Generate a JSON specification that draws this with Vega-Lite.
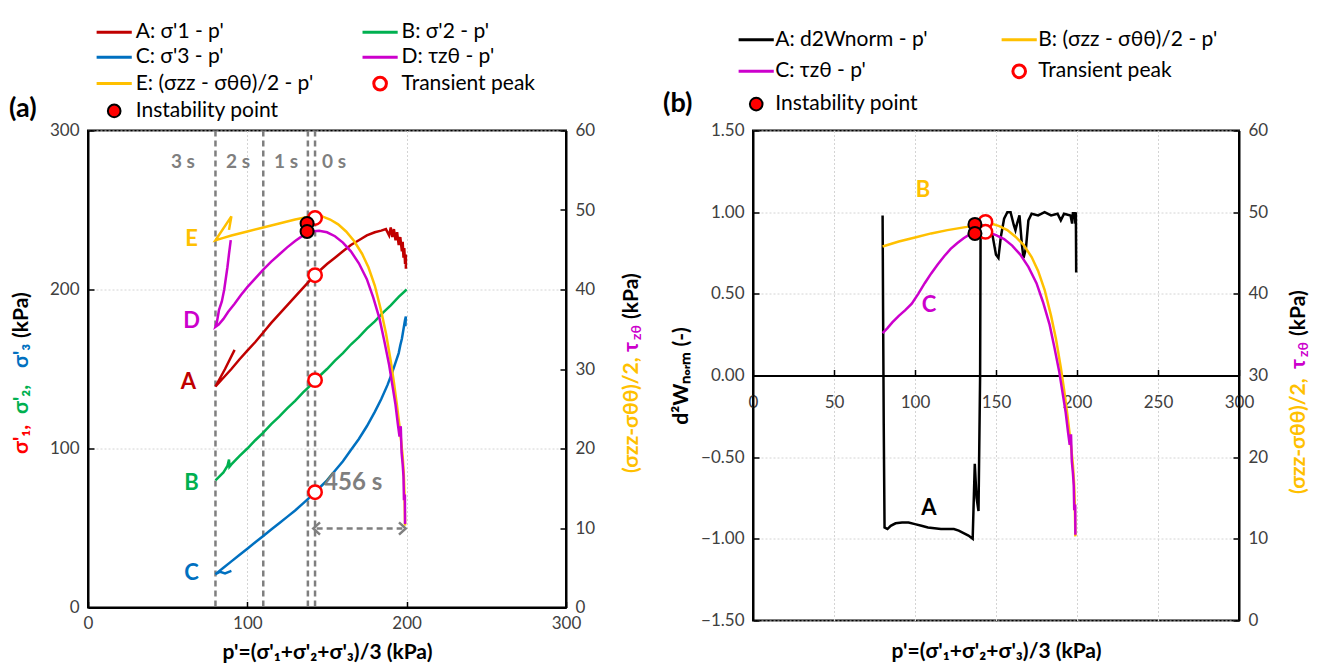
{
"$schema": "https://vega.github.io/schema/vega-lite/v6.json",
"padding": {"left": 8, "top": 20.5, "right": 5, "bottom": 5},
"background": "white",
"config": {
 "font": "Lato",
 "view": {"stroke": "black", "strokeWidth": 2},
 "axis": {"labelFont": "Lato", "labelFontSize": 17, "labelColor": "#404040", "labelFlush": false, "titleFont": "Lato", "titleFontSize": 21, "titleFontWeight": "bold", "titleColor": "black", "domainColor": "black", "domainWidth": 2, "tickColor": "black", "tickWidth": 1.5, "tickSize": -6, "gridColor": "#D4D4D4", "gridDash": [2, 2], "gridWidth": 1},
 "legend": {"labelFont": "Lato", "labelFontSize": 21, "labelColor": "black", "labelLimit": 400},
 "title": {"font": "Lato", "fontSize": 27, "fontWeight": "bold", "color": "black"}
},
"datasets": {
 "aRules": [{"p": 80}, {"p": 110}, {"p": 138}, {"p": 142.5}],
 "aL": [
  {"k":"A","o":1,"p":92,"s":162},{"k":"A","o":2,"p":86,"s":150},{"k":"A","o":3,"p":80,"s":139},{"k":"A","o":4,"p":85,"s":144.5},{"k":"A","o":5,"p":90,"s":150},{"k":"A","o":6,"p":95,"s":156},{"k":"A","o":7,"p":100,"s":161.5},{"k":"A","o":8,"p":105,"s":167},{"k":"A","o":9,"p":110,"s":173},{"k":"A","o":10,"p":115,"s":179},{"k":"A","o":11,"p":120,"s":184.5},{"k":"A","o":12,"p":125,"s":190},{"k":"A","o":13,"p":130,"s":195.5},{"k":"A","o":14,"p":135,"s":201},{"k":"A","o":15,"p":140,"s":206.5},{"k":"A","o":16,"p":145,"s":211.5},{"k":"A","o":17,"p":150,"s":216},{"k":"A","o":18,"p":155,"s":220},{"k":"A","o":19,"p":160,"s":224},{"k":"A","o":20,"p":165,"s":228},{"k":"A","o":21,"p":170,"s":231},{"k":"A","o":22,"p":175,"s":234},{"k":"A","o":23,"p":180,"s":236},{"k":"A","o":24,"p":184,"s":237},{"k":"A","o":25,"p":187,"s":238},{"k":"A","o":26,"p":189,"s":234},{"k":"A","o":27,"p":190,"s":239},{"k":"A","o":28,"p":191,"s":233},{"k":"A","o":29,"p":192,"s":238},{"k":"A","o":30,"p":193,"s":231},{"k":"A","o":31,"p":194,"s":236},{"k":"A","o":32,"p":195,"s":228},{"k":"A","o":33,"p":196,"s":233},{"k":"A","o":34,"p":197,"s":224},{"k":"A","o":35,"p":197.5,"s":230},{"k":"A","o":36,"p":198,"s":220},{"k":"A","o":37,"p":198.5,"s":226},{"k":"A","o":38,"p":199,"s":216},{"k":"A","o":39,"p":199.5,"s":222},{"k":"A","o":40,"p":199.5,"s":213},
  {"k":"B","o":1,"p":80,"s":80},{"k":"B","o":2,"p":85,"s":85},{"k":"B","o":3,"p":87.5,"s":89},{"k":"B","o":4,"p":88.5,"s":93},{"k":"B","o":5,"p":88.8,"s":88.5},{"k":"B","o":6,"p":90,"s":90},{"k":"B","o":7,"p":95,"s":95.2},{"k":"B","o":8,"p":100,"s":100},{"k":"B","o":9,"p":105,"s":105.2},{"k":"B","o":10,"p":110,"s":110},{"k":"B","o":11,"p":115,"s":115.3},{"k":"B","o":12,"p":120,"s":120},{"k":"B","o":13,"p":125,"s":125.2},{"k":"B","o":14,"p":130,"s":130},{"k":"B","o":15,"p":135,"s":135.3},{"k":"B","o":16,"p":140,"s":140},{"k":"B","o":17,"p":145,"s":145.3},{"k":"B","o":18,"p":150,"s":150},{"k":"B","o":19,"p":155,"s":155.3},{"k":"B","o":20,"p":160,"s":160},{"k":"B","o":21,"p":165,"s":165.4},{"k":"B","o":22,"p":170,"s":170},{"k":"B","o":23,"p":175,"s":175.4},{"k":"B","o":24,"p":180,"s":180},{"k":"B","o":25,"p":185,"s":185.3},{"k":"B","o":26,"p":190,"s":190},{"k":"B","o":27,"p":195,"s":195.4},{"k":"B","o":28,"p":200,"s":200},
  {"k":"C","o":1,"p":90,"s":23},{"k":"C","o":2,"p":86,"s":21.5},{"k":"C","o":3,"p":83,"s":22.5},{"k":"C","o":4,"p":80,"s":21},{"k":"C","o":5,"p":85,"s":25},{"k":"C","o":6,"p":90,"s":29},{"k":"C","o":7,"p":95,"s":33},{"k":"C","o":8,"p":100,"s":37},{"k":"C","o":9,"p":105,"s":41},{"k":"C","o":10,"p":110,"s":45},{"k":"C","o":11,"p":115,"s":49},{"k":"C","o":12,"p":120,"s":53},{"k":"C","o":13,"p":125,"s":57},{"k":"C","o":14,"p":130,"s":61},{"k":"C","o":15,"p":135,"s":65.5},{"k":"C","o":16,"p":140,"s":70},{"k":"C","o":17,"p":145,"s":75},{"k":"C","o":18,"p":150,"s":80},{"k":"C","o":19,"p":155,"s":86},{"k":"C","o":20,"p":160,"s":92},{"k":"C","o":21,"p":165,"s":99},{"k":"C","o":22,"p":170,"s":106},{"k":"C","o":23,"p":175,"s":114},{"k":"C","o":24,"p":180,"s":123},{"k":"C","o":25,"p":184,"s":131},{"k":"C","o":26,"p":188,"s":140},{"k":"C","o":27,"p":191,"s":148},{"k":"C","o":28,"p":193,"s":154},{"k":"C","o":29,"p":195,"s":160},{"k":"C","o":30,"p":196,"s":165},{"k":"C","o":31,"p":197,"s":169},{"k":"C","o":32,"p":197.5,"s":172},{"k":"C","o":33,"p":198,"s":175},{"k":"C","o":34,"p":198.5,"s":178},{"k":"C","o":35,"p":199,"s":181},{"k":"C","o":36,"p":199.5,"s":183},{"k":"C","o":37,"p":199.2,"s":177}
 ],
 "aR": [
  {"k":"E","o":1,"p":88.5,"t":47.5},{"k":"E","o":2,"p":90,"t":49.2},{"k":"E","o":3,"p":80,"t":46.2},{"k":"E","o":4,"p":85,"t":46.5},{"k":"E","o":5,"p":90,"t":46.8},{"k":"E","o":6,"p":100,"t":47.3},{"k":"E","o":7,"p":110,"t":47.8},{"k":"E","o":8,"p":120,"t":48.3},{"k":"E","o":9,"p":130,"t":48.8},{"k":"E","o":10,"p":137,"t":49.1},{"k":"E","o":11,"p":142,"t":49.3},{"k":"E","o":12,"p":147,"t":49.2},{"k":"E","o":13,"p":152,"t":48.8},{"k":"E","o":14,"p":157,"t":48.2},{"k":"E","o":15,"p":162,"t":47.3},{"k":"E","o":16,"p":167,"t":46.1},{"k":"E","o":17,"p":172,"t":44.5},{"k":"E","o":18,"p":176,"t":42.8},{"k":"E","o":19,"p":180,"t":40.5},{"k":"E","o":20,"p":184,"t":37.3},{"k":"E","o":21,"p":187,"t":34.5},{"k":"E","o":22,"p":190,"t":31},{"k":"E","o":23,"p":192,"t":28.3},{"k":"E","o":24,"p":194,"t":25.3},{"k":"E","o":25,"p":195.5,"t":22.8},{"k":"E","o":26,"p":196.5,"t":21},{"k":"E","o":27,"p":197.5,"t":19},{"k":"E","o":28,"p":198.2,"t":16.8},{"k":"E","o":29,"p":198.6,"t":14.5},{"k":"E","o":30,"p":198.8,"t":12.5},{"k":"E","o":31,"p":199,"t":10.3},
  {"k":"D","o":1,"p":89.6,"t":46.2},{"k":"D","o":2,"p":88.5,"t":44.5},{"k":"D","o":3,"p":87.5,"t":42.8},{"k":"D","o":4,"p":85.5,"t":40},{"k":"D","o":5,"p":84,"t":38.5},{"k":"D","o":6,"p":82.2,"t":37.4},{"k":"D","o":7,"p":81,"t":36},{"k":"D","o":8,"p":80,"t":35.3},{"k":"D","o":9,"p":82,"t":35.6},{"k":"D","o":10,"p":85,"t":36.3},{"k":"D","o":11,"p":88,"t":37.2},{"k":"D","o":12,"p":92,"t":38.2},{"k":"D","o":13,"p":96,"t":39.3},{"k":"D","o":14,"p":100,"t":40.3},{"k":"D","o":15,"p":105,"t":41.4},{"k":"D","o":16,"p":110,"t":42.5},{"k":"D","o":17,"p":115,"t":43.5},{"k":"D","o":18,"p":120,"t":44.4},{"k":"D","o":19,"p":125,"t":45.3},{"k":"D","o":20,"p":130,"t":46.1},{"k":"D","o":21,"p":135,"t":46.8},{"k":"D","o":22,"p":140,"t":47.3},{"k":"D","o":23,"p":145,"t":47.4},{"k":"D","o":24,"p":150,"t":47.2},{"k":"D","o":25,"p":155,"t":46.7},{"k":"D","o":26,"p":160,"t":45.9},{"k":"D","o":27,"p":165,"t":44.8},{"k":"D","o":28,"p":170,"t":43.3},{"k":"D","o":29,"p":175,"t":41.3},{"k":"D","o":30,"p":179,"t":39},{"k":"D","o":31,"p":183,"t":36.3},{"k":"D","o":32,"p":186,"t":33.5},{"k":"D","o":33,"p":189,"t":30.5},{"k":"D","o":34,"p":191,"t":28},{"k":"D","o":35,"p":193,"t":25.5},{"k":"D","o":36,"p":194.5,"t":23},{"k":"D","o":37,"p":195.5,"t":21.5},{"k":"D","o":38,"p":196.3,"t":22.8},{"k":"D","o":39,"p":196.8,"t":19.5},{"k":"D","o":40,"p":197.5,"t":18},{"k":"D","o":41,"p":198,"t":16.5},{"k":"D","o":42,"p":198.3,"t":13.5},{"k":"D","o":43,"p":198.9,"t":14.2},{"k":"D","o":44,"p":199,"t":10.5}
 ],
 "aTPL": [{"p":142.5,"s":209},{"p":142.5,"s":143},{"p":142.5,"s":72.5}],
 "aTPR": [{"p":142.5,"t":49.0}],
 "aIPR": [{"p":137.5,"t":48.3},{"p":137.5,"t":47.3}],
 "aTxtL": [{"k":"A","lbl":"A","p":63,"s":142},{"k":"B","lbl":"B","p":65,"s":78.6},{"k":"C","lbl":"C","p":65,"s":22}],
 "aTxtR": [{"k":"D","lbl":"D","p":65,"t":36.1},{"k":"E","lbl":"E","p":65,"t":46.4}],
 "aSec": [{"lbl":"3 s","p":59.6,"s":280},{"lbl":"2 s","p":94.2,"s":280},{"lbl":"1 s","p":124.3,"s":280},{"lbl":"0 s","p":154.4,"s":280}],
 "aDur": [{"lbl":"456 s","p":166.4,"s":78.6}],
 "aArrow": [{"p":143.5,"p2":197.3,"s":49.7}],
 "aHeads": [{"dir":"L","p":143.5,"s":49.7},{"dir":"R","p":197.3,"s":49.7}],
 "bA": [
  {"k":"A","o":1,"p":80,"v":0.98},{"k":"A","o":2,"p":80.3,"v":0.4},{"k":"A","o":3,"p":80.7,"v":-0.3},{"k":"A","o":4,"p":81.2,"v":-0.93},{"k":"A","o":5,"p":83,"v":-0.94},{"k":"A","o":6,"p":85,"v":-0.92},{"k":"A","o":7,"p":88,"v":-0.905},{"k":"A","o":8,"p":92,"v":-0.9},{"k":"A","o":9,"p":96,"v":-0.9},{"k":"A","o":10,"p":100,"v":-0.91},{"k":"A","o":11,"p":104,"v":-0.92},{"k":"A","o":12,"p":108,"v":-0.93},{"k":"A","o":13,"p":112,"v":-0.935},{"k":"A","o":14,"p":116,"v":-0.94},{"k":"A","o":15,"p":120,"v":-0.94},{"k":"A","o":16,"p":124,"v":-0.94},{"k":"A","o":17,"p":127,"v":-0.95},{"k":"A","o":18,"p":130,"v":-0.965},{"k":"A","o":19,"p":133,"v":-0.98},{"k":"A","o":20,"p":135.6,"v":-1.0},{"k":"A","o":21,"p":136.9,"v":-0.54},{"k":"A","o":22,"p":138,"v":-0.75},{"k":"A","o":23,"p":139.2,"v":-0.83},{"k":"A","o":24,"p":140.2,"v":0},{"k":"A","o":25,"p":140.5,"v":0.91},{"k":"A","o":26,"p":143,"v":0.93},{"k":"A","o":27,"p":145.9,"v":0.93},{"k":"A","o":28,"p":148,"v":0.85},{"k":"A","o":29,"p":150,"v":0.74},{"k":"A","o":30,"p":151.5,"v":0.72},{"k":"A","o":31,"p":153,"v":0.85},{"k":"A","o":32,"p":155,"v":0.96},{"k":"A","o":33,"p":157,"v":1.0},{"k":"A","o":34,"p":159,"v":1.0},{"k":"A","o":35,"p":161,"v":0.92},{"k":"A","o":36,"p":162,"v":0.89},{"k":"A","o":37,"p":163,"v":0.93},{"k":"A","o":38,"p":164.5,"v":0.98},{"k":"A","o":39,"p":166,"v":0.8},{"k":"A","o":40,"p":167,"v":0.72},{"k":"A","o":41,"p":168.5,"v":0.78},{"k":"A","o":42,"p":170,"v":0.95},{"k":"A","o":43,"p":172,"v":0.99},{"k":"A","o":44,"p":176,"v":0.98},{"k":"A","o":45,"p":180,"v":1.0},{"k":"A","o":46,"p":184,"v":0.98},{"k":"A","o":47,"p":188,"v":0.99},{"k":"A","o":48,"p":190,"v":0.95},{"k":"A","o":49,"p":192,"v":0.99},{"k":"A","o":50,"p":196,"v":0.98},{"k":"A","o":51,"p":197,"v":0.93},{"k":"A","o":52,"p":197.5,"v":1.0},{"k":"A","o":53,"p":198,"v":0.96},{"k":"A","o":54,"p":198.5,"v":1.0},{"k":"A","o":55,"p":199,"v":0.93},{"k":"A","o":56,"p":199.3,"v":1.0},{"k":"A","o":57,"p":199.5,"v":0.63}
 ],
 "bR": [
  {"k":"B","o":1,"p":80,"t":45.8},{"k":"B","o":2,"p":90,"t":46.4},{"k":"B","o":3,"p":100,"t":46.9},{"k":"B","o":4,"p":110,"t":47.4},{"k":"B","o":5,"p":120,"t":47.8},{"k":"B","o":6,"p":132,"t":48.2},{"k":"B","o":7,"p":138,"t":48.5},{"k":"B","o":8,"p":143,"t":48.7},{"k":"B","o":9,"p":147,"t":48.6},{"k":"B","o":10,"p":152,"t":48.3},{"k":"B","o":11,"p":157,"t":47.8},{"k":"B","o":12,"p":162,"t":47},{"k":"B","o":13,"p":167,"t":46},{"k":"B","o":14,"p":172,"t":44.5},{"k":"B","o":15,"p":176,"t":42.8},{"k":"B","o":16,"p":180,"t":40.5},{"k":"B","o":17,"p":184,"t":37.3},{"k":"B","o":18,"p":187,"t":34.5},{"k":"B","o":19,"p":190,"t":31},{"k":"B","o":20,"p":192,"t":28.3},{"k":"B","o":21,"p":194,"t":25.3},{"k":"B","o":22,"p":195.5,"t":22.8},{"k":"B","o":23,"p":196.5,"t":21},{"k":"B","o":24,"p":197.5,"t":19},{"k":"B","o":25,"p":198.2,"t":16.8},{"k":"B","o":26,"p":198.6,"t":14.5},{"k":"B","o":27,"p":198.8,"t":12.5},{"k":"B","o":28,"p":199,"t":10.3},
  {"k":"C","o":1,"p":80,"t":35.2},{"k":"C","o":2,"p":83,"t":35.8},{"k":"C","o":3,"p":86,"t":36.5},{"k":"C","o":4,"p":90,"t":37.3},{"k":"C","o":5,"p":94,"t":38},{"k":"C","o":6,"p":98,"t":38.8},{"k":"C","o":7,"p":102,"t":40},{"k":"C","o":8,"p":106,"t":41.3},{"k":"C","o":9,"p":110,"t":42.5},{"k":"C","o":10,"p":114,"t":43.6},{"k":"C","o":11,"p":118,"t":44.6},{"k":"C","o":12,"p":122,"t":45.5},{"k":"C","o":13,"p":126,"t":46.2},{"k":"C","o":14,"p":130,"t":46.8},{"k":"C","o":15,"p":134,"t":47.3},{"k":"C","o":16,"p":138,"t":47.6},{"k":"C","o":17,"p":142,"t":47.7},{"k":"C","o":18,"p":146,"t":47.5},{"k":"C","o":19,"p":150,"t":47.2},{"k":"C","o":20,"p":155,"t":46.7},{"k":"C","o":21,"p":160,"t":45.9},{"k":"C","o":22,"p":165,"t":44.8},{"k":"C","o":23,"p":170,"t":43.3},{"k":"C","o":24,"p":175,"t":41.3},{"k":"C","o":25,"p":179,"t":39},{"k":"C","o":26,"p":183,"t":36.3},{"k":"C","o":27,"p":186,"t":33.5},{"k":"C","o":28,"p":189,"t":30.5},{"k":"C","o":29,"p":191,"t":28},{"k":"C","o":30,"p":193,"t":25.5},{"k":"C","o":31,"p":194.5,"t":23},{"k":"C","o":32,"p":195.5,"t":21.5},{"k":"C","o":33,"p":196.3,"t":22.8},{"k":"C","o":34,"p":196.8,"t":19.5},{"k":"C","o":35,"p":197.5,"t":18},{"k":"C","o":36,"p":198,"t":16.5},{"k":"C","o":37,"p":198.3,"t":13.5},{"k":"C","o":38,"p":198.9,"t":14.2},{"k":"C","o":39,"p":199,"t":10.5}
 ],
 "bTP": [{"p":143.5,"t":48.8},{"p":143.5,"t":47.6}],
 "bIP": [{"p":137,"t":48.5},{"p":137,"t":47.4}],
 "bTxtL": [{"k":"A","lbl":"A","p":108.6,"v":-0.81}],
 "bTxtR": [{"k":"B","lbl":"B","p":104.9,"t":52.7},{"k":"C","lbl":"C","p":108.6,"t":38.6}]
},
"resolve": {"scale": {"color": "independent", "fill": "independent", "shape": "independent"}, "legend": {"color": "independent"}},
"bounds": "flush",
"spacing": 187,
"hconcat": [
 {
  "width": 478, "height": 477,
  "title": {"text": "(a)", "anchor": "start", "frame": "group", "dx": -79, "dy": 113, "offset": 12},
  "resolve": {"scale": {"y": "independent"}},
  "layer": [
   {"data": {"name": "aRules"}, "mark": {"type": "rule", "color": "#7F7F7F", "strokeWidth": 2.5, "strokeDash": [6, 4]},
    "encoding": {"x": {"field": "p", "type": "quantitative", "scale": {"domain": [0, 300], "nice": false},
      "axis": {"values": [0, 100, 200, 300], "grid": true, "title": "p'=(σ'₁+σ'₂+σ'₃)/3 (kPa)", "titleY": 45, "titleBaseline": "middle", "labelPadding": 14}}}},
   {"data": {"name": "aL"}, "mark": {"type": "line", "strokeWidth": 2.5},
    "encoding": {
     "x": {"field": "p", "type": "quantitative"},
     "y": {"field": "s", "type": "quantitative", "scale": {"domain": [0, 300], "nice": false},
       "axis": {"orient": "left", "values": [0, 100, 200, 300], "grid": true, "labelPadding": 15, "title": "σ'₁,", "titleColor": "#FF0000", "titleAngle": -90, "titleAlign": "left", "titleBaseline": "middle", "titleX": -67, "titleY": 323}},
     "color": {"field": "k", "type": "nominal",
       "scale": {"domain": ["A", "B", "C", "D", "E", "TP", "IP"], "range": ["#C00000", "#00B050", "#0070C0", "#CC00CC", "#FFC000", "#FF0000", "#000000"]},
       "legend": {"title": null, "orient": "none", "direction": "horizontal", "legendX": 15.7, "legendY": -109, "columns": 2, "columnPadding": 42.9, "rowPadding": 3.3, "labelOffset": 11, "symbolSize": 160, "symbolStrokeWidth": 3, "symbolOpacity": 1,
        "labelExpr": "datum.label == 'A' ? \"A: σ'1 - p'\" : datum.label == 'B' ? \"B: σ'2 - p'\" : datum.label == 'C' ? \"C: σ'3 - p'\" : datum.label == 'D' ? \"D: τzθ - p'\" : datum.label == 'E' ? \"E: (σzz - σθθ)/2 - p'\" : datum.label == 'TP' ? 'Transient peak' : 'Instability point'",
        "encode": {"symbols": {"update": {
          "shape": {"signal": "datum.value == 'TP' || datum.value == 'IP' ? 'circle' : 'M -2.78 0 L 2.78 0'"},
          "fill": {"signal": "datum.value == 'IP' ? '#FF0000' : datum.value == 'TP' ? '#FFFFFF' : 'transparent'"},
          "strokeWidth": {"signal": "datum.value == 'IP' ? 2 : 3"},
          "opacity": {"value": 1}}}}}},
     "order": {"field": "o", "type": "quantitative"}}},
   {"data": {"name": "aR"}, "mark": {"type": "line", "strokeWidth": 2.5},
    "encoding": {
     "x": {"field": "p", "type": "quantitative"},
     "y": {"field": "t", "type": "quantitative", "scale": {"domain": [0, 60], "nice": false},
       "axis": {"orient": "right", "values": [0, 10, 20, 30, 40, 50, 60], "grid": false, "labelPadding": 15, "title": "(σzz-σθθ)/2,", "titleColor": "#FFC000", "titleAngle": -90, "titleAlign": "left", "titleBaseline": "middle", "titleX": 65, "titleY": 342}},
     "color": {"field": "k", "type": "nominal"},
     "order": {"field": "o", "type": "quantitative"}}},
   {"data": {"name": "aArrow"}, "mark": {"type": "rule", "color": "#7F7F7F", "strokeWidth": 2.5, "strokeDash": [6, 4]},
    "encoding": {"x": {"field": "p", "type": "quantitative"}, "x2": {"field": "p2"},
     "y": {"field": "s", "type": "quantitative", "scale": {"domain": [0, 300], "nice": false}, "axis": null}}},
   {"data": {"name": "aHeads"}, "mark": {"type": "point", "filled": false, "color": "#7F7F7F", "strokeWidth": 2.5, "size": 150, "opacity": 1},
    "encoding": {"x": {"field": "p", "type": "quantitative"},
     "y": {"field": "s", "type": "quantitative", "scale": {"domain": [0, 300], "nice": false}, "axis": null},
     "shape": {"field": "dir", "type": "nominal", "scale": {"domain": ["L", "R"], "range": ["M 0.55 -1 L -0.55 0 L 0.55 1", "M -0.55 -1 L 0.55 0 L -0.55 1"]}, "legend": null}}},
   {"data": {"name": "aTPL"}, "mark": {"type": "point", "shape": "circle", "filled": false, "color": "#FF0000", "fill": "white", "strokeWidth": 2.5, "size": 180, "opacity": 1},
    "encoding": {"x": {"field": "p", "type": "quantitative"},
     "y": {"field": "s", "type": "quantitative", "scale": {"domain": [0, 300], "nice": false},
       "axis": {"orient": "left", "labels": false, "ticks": false, "domain": false, "grid": false, "title": "σ'₂,", "titleColor": "#00B050", "titleAngle": -90, "titleAlign": "left", "titleBaseline": "middle", "titleX": -67, "titleY": 283}}}},
   {"data": {"name": "aTPR"}, "mark": {"type": "point", "shape": "circle", "filled": false, "color": "#FF0000", "fill": "white", "strokeWidth": 2.5, "size": 180, "opacity": 1},
    "encoding": {"x": {"field": "p", "type": "quantitative"},
     "y": {"field": "t", "type": "quantitative", "scale": {"domain": [0, 60], "nice": false},
       "axis": {"orient": "right", "labels": false, "ticks": false, "domain": false, "grid": false, "title": "τ", "titleColor": "#CC00CC", "titleAngle": -90, "titleAlign": "left", "titleBaseline": "middle", "titleX": 65, "titleY": 221}}}},
   {"data": {"name": "aIPR"}, "mark": {"type": "point", "shape": "circle", "filled": true, "fill": "#FF0000", "stroke": "#000000", "strokeWidth": 2, "size": 170, "opacity": 1},
    "encoding": {"x": {"field": "p", "type": "quantitative"},
     "y": {"field": "t", "type": "quantitative", "scale": {"domain": [0, 60], "nice": false},
       "axis": {"orient": "right", "labels": false, "ticks": false, "domain": false, "grid": false, "title": "zθ", "titleFontSize": 14, "titleColor": "#CC00CC", "titleAngle": -90, "titleAlign": "left", "titleBaseline": "middle", "titleX": 70, "titleY": 209}}}},
   {"data": {"name": "aTxtL"}, "mark": {"type": "text", "fontWeight": "bold", "fontSize": 22, "align": "center", "baseline": "middle"},
    "encoding": {"x": {"field": "p", "type": "quantitative"},
     "y": {"field": "s", "type": "quantitative", "scale": {"domain": [0, 300], "nice": false},
       "axis": {"orient": "left", "labels": false, "ticks": false, "domain": false, "grid": false, "title": "σ'₃", "titleColor": "#0070C0", "titleAngle": -90, "titleAlign": "left", "titleBaseline": "middle", "titleX": -67, "titleY": 237}},
     "text": {"field": "lbl"},
     "fill": {"field": "k", "type": "nominal", "scale": {"domain": ["A", "B", "C", "D", "E"], "range": ["#C00000", "#00B050", "#0070C0", "#CC00CC", "#FFC000"]}, "legend": null}}},
   {"data": {"name": "aTxtR"}, "mark": {"type": "text", "fontWeight": "bold", "fontSize": 22, "align": "center", "baseline": "middle"},
    "encoding": {"x": {"field": "p", "type": "quantitative"},
     "y": {"field": "t", "type": "quantitative", "scale": {"domain": [0, 60], "nice": false},
       "axis": {"orient": "right", "labels": false, "ticks": false, "domain": false, "grid": false, "title": "(kPa)", "titleColor": "black", "titleAngle": -90, "titleAlign": "left", "titleBaseline": "middle", "titleX": 65, "titleY": 188}},
     "text": {"field": "lbl"},
     "fill": {"field": "k", "type": "nominal", "legend": null}}},
   {"data": {"name": "aSec"}, "mark": {"type": "text", "fontWeight": "bold", "fontSize": 19, "color": "#7F7F7F", "align": "center", "baseline": "middle"},
    "encoding": {"x": {"field": "p", "type": "quantitative"},
     "y": {"field": "s", "type": "quantitative", "scale": {"domain": [0, 300], "nice": false},
       "axis": {"orient": "left", "labels": false, "ticks": false, "domain": false, "grid": false, "title": "(kPa)", "titleColor": "black", "titleAngle": -90, "titleAlign": "left", "titleBaseline": "middle", "titleX": -67, "titleY": 207}},
     "text": {"field": "lbl"}}},
   {"data": {"name": "aDur"}, "mark": {"type": "text", "fontWeight": "bold", "fontSize": 24, "color": "#7F7F7F", "align": "center", "baseline": "middle"},
    "encoding": {"x": {"field": "p", "type": "quantitative"},
     "y": {"field": "s", "type": "quantitative", "scale": {"domain": [0, 300], "nice": false}, "axis": null},
     "text": {"field": "lbl"}}}
  ]
 },
 {
  "width": 486, "height": 490,
  "title": {"text": "(b)", "anchor": "start", "frame": "group", "dx": -90, "dy": 101, "offset": 12},
  "resolve": {"scale": {"y": "independent"}},
  "layer": [
   {"data": {"name": "bA"}, "mark": {"type": "line", "strokeWidth": 2.5},
    "encoding": {
     "x": {"field": "p", "type": "quantitative", "scale": {"domain": [0, 300], "nice": false},
       "axis": {"orient": "bottom", "offset": -245, "values": [0, 50, 100, 150, 200, 250, 300], "grid": true, "title": "p'=(σ'₁+σ'₂+σ'₃)/3 (kPa)", "titleY": 276, "titleBaseline": "middle", "labelPadding": 25}},
     "y": {"field": "v", "type": "quantitative", "scale": {"domain": [-1.5, 1.5], "nice": false},
       "axis": {"orient": "left", "values": [-1.5, -1, -0.5, 0, 0.5, 1, 1.5], "format": ".2f", "grid": true, "labelPadding": 15, "title": "d²Wₙₒᵣₘ (-)", "titleAngle": -90, "titleAlign": "center", "titleBaseline": "middle", "titleX": -72, "titleY": 245}},
     "color": {"field": "k", "type": "nominal",
       "scale": {"domain": ["A", "B", "C", "TP", "IP"], "range": ["#000000", "#FFC000", "#CC00CC", "#FF0000", "#000000"]},
       "legend": {"title": null, "orient": "none", "direction": "horizontal", "legendX": -7.3, "legendY": -101.5, "columns": 2, "columnPadding": 67, "rowPadding": 8.8, "labelOffset": 8.5, "symbolSize": 160, "symbolStrokeWidth": 3, "symbolOpacity": 1,
        "labelExpr": "datum.label == 'A' ? \"A: d2Wnorm - p'\" : datum.label == 'B' ? \"B: (σzz - σθθ)/2 - p'\" : datum.label == 'C' ? \"C: τzθ - p'\" : datum.label == 'TP' ? 'Transient peak' : 'Instability point'",
        "encode": {"symbols": {"update": {
          "shape": {"signal": "datum.value == 'TP' || datum.value == 'IP' ? 'circle' : 'M -2.78 0 L 2.78 0'"},
          "fill": {"signal": "datum.value == 'IP' ? '#FF0000' : datum.value == 'TP' ? '#FFFFFF' : 'transparent'"},
          "strokeWidth": {"signal": "datum.value == 'IP' ? 2 : 3"},
          "opacity": {"value": 1}}}}}},
     "order": {"field": "o", "type": "quantitative"}}},
   {"data": {"name": "bR"}, "mark": {"type": "line", "strokeWidth": 2.5},
    "encoding": {
     "x": {"field": "p", "type": "quantitative"},
     "y": {"field": "t", "type": "quantitative", "scale": {"domain": [0, 60], "nice": false},
       "axis": {"orient": "right", "values": [0, 10, 20, 30, 40, 50, 60], "grid": false, "labelPadding": 15, "title": "(σzz-σθθ)/2,", "titleColor": "#FFC000", "titleAngle": -90, "titleAlign": "left", "titleBaseline": "middle", "titleX": 59, "titleY": 363}},
     "color": {"field": "k", "type": "nominal"},
     "order": {"field": "o", "type": "quantitative"}}},
   {"data": {"name": "bTP"}, "mark": {"type": "point", "shape": "circle", "filled": false, "color": "#FF0000", "fill": "white", "strokeWidth": 2.5, "size": 180, "opacity": 1},
    "encoding": {"x": {"field": "p", "type": "quantitative"},
     "y": {"field": "t", "type": "quantitative", "scale": {"domain": [0, 60], "nice": false},
       "axis": {"orient": "right", "labels": false, "ticks": false, "domain": false, "grid": false, "title": "τ", "titleColor": "#CC00CC", "titleAngle": -90, "titleAlign": "left", "titleBaseline": "middle", "titleX": 59, "titleY": 238}}}},
   {"data": {"name": "bIP"}, "mark": {"type": "point", "shape": "circle", "filled": true, "fill": "#FF0000", "stroke": "#000000", "strokeWidth": 2, "size": 170, "opacity": 1},
    "encoding": {"x": {"field": "p", "type": "quantitative"},
     "y": {"field": "t", "type": "quantitative", "scale": {"domain": [0, 60], "nice": false},
       "axis": {"orient": "right", "labels": false, "ticks": false, "domain": false, "grid": false, "title": "zθ", "titleFontSize": 14, "titleColor": "#CC00CC", "titleAngle": -90, "titleAlign": "left", "titleBaseline": "middle", "titleX": 64, "titleY": 226}}}},
   {"data": {"name": "bTxtR"}, "mark": {"type": "text", "fontWeight": "bold", "fontSize": 22, "align": "center", "baseline": "middle"},
    "encoding": {"x": {"field": "p", "type": "quantitative"},
     "y": {"field": "t", "type": "quantitative", "scale": {"domain": [0, 60], "nice": false},
       "axis": {"orient": "right", "labels": false, "ticks": false, "domain": false, "grid": false, "title": "(kPa)", "titleColor": "black", "titleAngle": -90, "titleAlign": "left", "titleBaseline": "middle", "titleX": 59, "titleY": 205}},
     "text": {"field": "lbl"},
     "fill": {"field": "k", "type": "nominal", "scale": {"domain": ["A", "B", "C"], "range": ["#000000", "#FFC000", "#CC00CC"]}, "legend": null}}},
   {"data": {"name": "bTxtL"}, "mark": {"type": "text", "fontWeight": "bold", "fontSize": 22, "align": "center", "baseline": "middle"},
    "encoding": {"x": {"field": "p", "type": "quantitative"},
     "y": {"field": "v", "type": "quantitative", "scale": {"domain": [-1.5, 1.5], "nice": false}, "axis": null},
     "text": {"field": "lbl"},
     "fill": {"field": "k", "type": "nominal", "legend": null}}}
  ]
 }
]
}
